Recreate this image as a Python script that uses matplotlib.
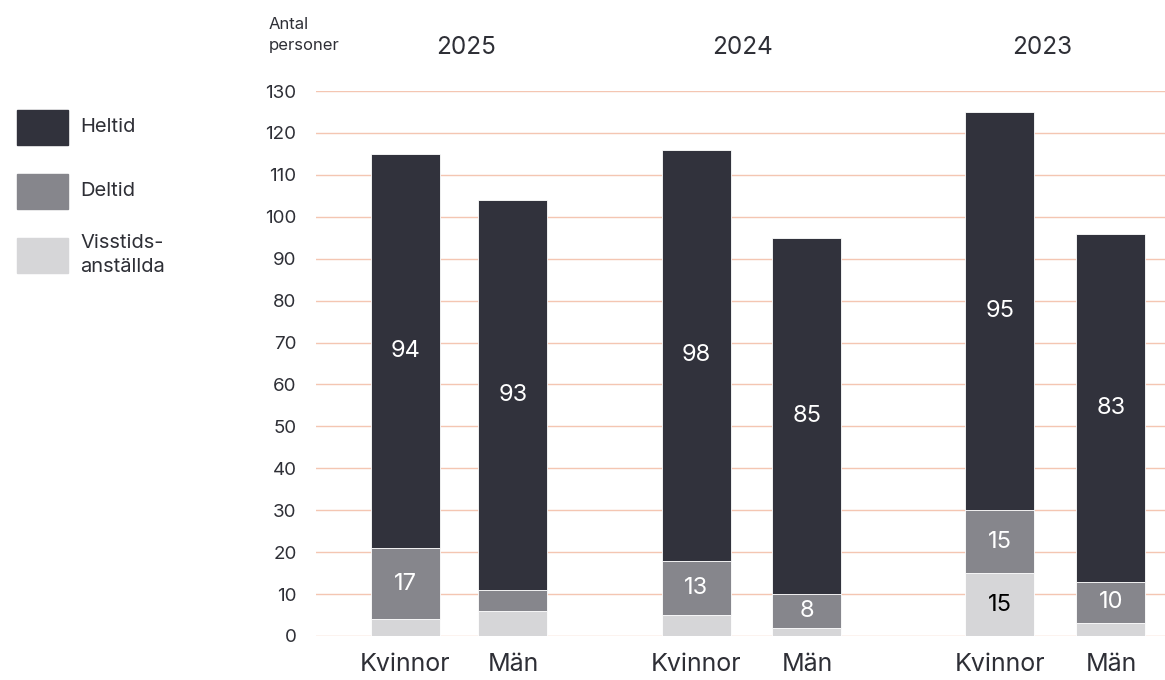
import matplotlib.pyplot as plt
from matplotlib.patches import Rectangle

plt.rcParams['font.family'] = ['Inter', 'DejaVu Sans']

# data
years = ['2025', '2024', '2023']
kon = ['Kvinnor', 'Män']
heltid = [94, 93, 98, 85, 95, 83]
deltid = [17, 5, 13, 8, 15, 10]
visstid = [4, 6, 5, 2, 15, 3]
serier = ['Heltid', 'Deltid', 'Visstids-\nanställda']

c_hel = '#31323c'
c_del = '#86868c'
c_vis = '#d6d6d8'
c_grid = '#f4c6b2'
c_text = '#2e2f36'

# layout (pixel-like units on x)
xpos = [405.5, 513, 696.5, 807, 1000, 1111]
bw = 69

fig = plt.figure(figsize=(11.65, 6.8), dpi=100)
ax = fig.add_axes([316 / 1165, 1 - 636 / 680, 1 - 316 / 1165, (636 - 91) / 680])

bottom_del = visstid
bottom_hel = [v + d for v, d in zip(visstid, deltid)]
ax.bar(xpos, visstid, bw, color=c_vis, edgecolor='white', linewidth=0.6, zorder=3)
ax.bar(xpos, deltid, bw, bottom=bottom_del, color=c_del, edgecolor='white', linewidth=0.6, zorder=3)
ax.bar(xpos, heltid, bw, bottom=bottom_hel, color=c_hel, edgecolor='white', linewidth=0.6, zorder=3)

# värdeetiketter
for i, x in enumerate(xpos):
    if heltid[i] > 7:
        ax.text(x, bottom_hel[i] + heltid[i] / 2, str(heltid[i]), ha='center', va='center',
                color='white', fontsize=17, zorder=4)
    if deltid[i] > 7:
        ax.text(x, bottom_del[i] + deltid[i] / 2, str(deltid[i]), ha='center', va='center',
                color='white', fontsize=17, zorder=4)
    if visstid[i] > 7:
        ax.text(x, visstid[i] / 2, str(visstid[i]), ha='center', va='center',
                color='black', fontsize=17, zorder=4)

ax.set_xlim(316, 1165)
ax.set_ylim(0, 130)
ax.set_yticks(range(0, 131, 10))
ax.set_xticks(xpos)
ax.set_xticklabels(kon * 3, fontsize=18, color=c_text)
ax.tick_params(axis='x', length=0, pad=12)
ax.tick_params(axis='y', length=0, pad=14, labelsize=13.5, labelcolor=c_text)
for s in ax.spines.values():
    s.set_visible(False)
ax.grid(axis='y', color=c_grid, linewidth=1, zorder=0)
ax.set_axisbelow(True)

# årsrubriker
year_x = [466, 742, 1042]
for y, xp in zip(years, year_x):
    fig.text(xp / 1165, 1 - 48 / 680, y, ha='center', va='center', fontsize=17.5, color=c_text)

fig.text(269 / 1165, 1 - 35 / 680, 'Antal\npersoner', ha='left', va='center',
         fontsize=12, color=c_text, linespacing=1.45)

# legend
for i, (lab, col) in enumerate(zip(serier, [c_hel, c_del, c_vis])):
    ytop = 110 + i * 64
    fig.patches.append(Rectangle((17 / 1165, 1 - (ytop + 35) / 680), 51 / 1165, 35 / 680,
                                 transform=fig.transFigure, color=col))
    fig.text(80 / 1165, 1 - (ytop + 17) / 680, lab, ha='left', va='center',
             fontsize=14.5, color=c_text, linespacing=1.45)

fig.savefig('out.png', dpi=100)
